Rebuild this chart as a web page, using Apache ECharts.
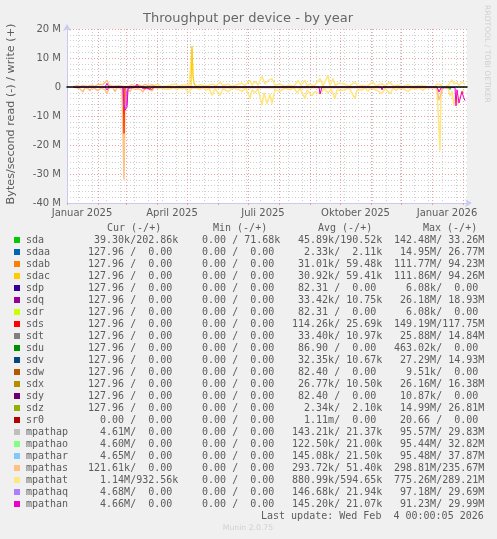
<!DOCTYPE html>
<html lang="en">
<head>
<meta charset="UTF-8">
<script src="https://cdnjs.cloudflare.com/ajax/libs/echarts/6.0.0/echarts.min.js"></script>
<title>Throughput per device - by year</title>
<style>
  html, body { margin: 0; padding: 0; background: #f0f0f0; }
  #chart { width: 497px; height: 539px; }
</style>
</head>
<body>
<div id="chart"></div>
<script type="text/javascript">
// x values are days since 2025-01-01, y values are in M bytes/second
var monthStarts = [0, 31, 59, 90, 120, 151, 181, 212, 243, 273, 304, 334, 365, 396];
var fortnights = [11, 25, 39, 53, 67, 81, 95, 109, 123, 137, 151, 165, 179, 193, 207, 221, 235, 249, 263, 277, 291, 305, 319, 333, 347, 361, 375, 389];
var labelDays = [15, 105, 196, 288.5, 380];
var labelNames = ['Januar 2025', 'April 2025', 'Juli 2025', 'Oktober 2025', 'Januar 2026'];

var mpathatRead = [[88,0],[91,-0.5],[94,-0.2],[97,-0.7],[100,-0.8],[102,-0.2],[104,-0.6],[107,-0.2],[110,-1],[112,-0.3],[115,-0.6],[118,-0.3],[121,-2],[124,-0.6],[126,-0.9],[128,-0.3],[130,-0.7],[133,-0.8],[136,-0.2],[139,-1.2],[142,-0.4],[145,-2.9],[148,-0.6],[153,-2.9],[156,-0.5],[161,-1.7],[165,-0.3],[172,-1],[175,-1.5],[179,-0.4],[183,-4],[185,-1],[188,-2],[191,-0.6],[195,-6.3],[197,-2],[200,-5.7],[203,-2.5],[205,-5.7],[208,-1],[213,-1.5],[218,-0.4],[223,-1],[227,-0.3],[230,-2],[233,-0.5],[238,-4],[240,-1],[245,-3],[248,-1.5],[253,-2.4],[257,-0.6],[261,-2],[264,-0.8],[268,-4],[270,-1],[273,-1.2],[278,-1],[282,-0.3],[288,-4],[290,-1],[295,-1],[298,-0.3],[301,-1.5],[304,-0.3],[310,-1.2],[315,-2.3],[318,-0.4],[323,-2.3],[326,-0.4],[329,-1.2],[333,-0.2],[341,-1.5],[345,-0.4],[349,-0.8],[352,-0.1],[356,-1.2],[359,-0.1],[368,-0.2],[370,-1],[372,-0.8],[373,-22],[374,-1],[377,-0.1],[381,-0.4],[383,-3.2],[385,-1.5],[387,-6.5],[389,-2],[391,-6],[394,-2],[397,-1]];
var mpathatWrite = [[81,0.7],[85,0.3],[91,1],[94,0.3],[96,0.7],[99,0.3],[103,0.6],[105,0.2],[108,1],[112,0.3],[115,0.7],[118,0.8],[122,0.5],[125,13],[126,3.5],[127,1.2],[130,0.4],[133,0.8],[136,0.6],[140,0.4],[146,1],[149,0.3],[153,1.7],[156,0.5],[161,1],[165,0.3],[170,0.8],[175,1.3],[178,0.5],[183,2.3],[185,0.6],[188,2],[191,0.7],[195,3.7],[198,1],[201,2.2],[205,2.9],[208,0.6],[213,1],[218,0.2],[223,0.6],[227,0.2],[231,2.3],[234,0.6],[238,2.3],[240,0.5],[243,1],[247,0.3],[253,2.9],[256,0.4],[261,4],[263,0.5],[266,2.9],[268,0.6],[272,1.3],[278,1],[282,0.3],[288,1.7],[291,0.2],[295,0.5],[300,0.3],[306,1.7],[309,0.3],[315,1.2],[318,0.4],[323,1.7],[326,0.3],[331,0.7],[335,0.2],[341,0.8],[345,0.2],[350,0.4],[356,0.4],[362,0.1],[368,0.2],[370,1],[374,0.8],[376,0],[381,0.4],[385,2.5],[387,1],[390,1.5],[392,0.6],[395,1.7],[398,1]];
var mpathasRead = [[6,0],[10,-0.3],[13,-0.6],[16,-1.7],[18,-0.2],[21,-0.5],[23,-1.3],[25,-0.2],[28,-0.6],[31,-1.2],[34,-0.4],[38,-0.9],[40,-2.3],[42,-0.3],[46,-0.2],[48,-1.6],[50,-0.2],[55,-0.5],[57,-32],[58,-1.5],[60,-0.5],[63,-1.6],[65,-0.3],[68,-0.8],[71,-0.6],[74,-0.9],[76,-1.7],[78,-0.3],[82,-0.8],[85,-1.3],[87,-0.2],[92,-0.3],[370,-0.3],[372,-4.5],[374,-4],[376,-0.2]];
var mpathasWrite = [[6,0],[10,0.5],[13,0.2],[16,0.5],[20,0.2],[25,0.6],[28,0.2],[31,0.9],[33,0.3],[36,0.9],[40,2.3],[42,0.6],[46,0.3],[52,0.4],[57,0.2],[62,0.3],[65,0.8],[68,0.3],[72,0.7],[75,0.2],[78,0.9],[82,0.3],[85,0.8],[88,0.2],[92,0.3]];
var sdacWrite = [[124,0],[125,14],[126,4],[127,1.5],[128,0.5],[130,0]];
var mpathaqRead = [[56,0],[57,-6],[58,-7.5],[59,-7],[60,-6],[61,0]];
var sdsRead = [[56,0],[57,-16],[58,0],[62,0],[63,-0.5],[64,0],[71,0],[72,-0.5],[73,0],[77,0],[78,-0.8],[79,0],[81,0],[82,-0.6],[83,0],[84,0],[85,-0.8],[87,0]];
var mpathanRead = [[6,0],[8,-0.5],[10,-0.2],[12,-0.5],[14,0],[22,0],[23,-0.4],[24,0],[38,0],[40,-1],[42,0],[47,0],[48,-0.6],[49,0],[56,0],[57,-6],[58,-8],[59,-8],[60,-7],[61,-0.5],[62,0],[69,0],[70,-0.5],[71,0],[75,0],[76,-0.7],[77,0],[79,0],[80,-0.5],[81,0],[82,0],[83,-0.7],[85,0],[152,0],[154,-0.4],[156,0],[218,0],[219,-0.4],[220,0],[237,0],[238,-0.4],[239,0],[252,0],[253,-2.4],[254,-2],[255,0],[294,0],[295,-0.5],[296,0],[314,0],[315,-1],[316,0],[370,0],[372,-1.7],[374,-0.3],[388,-0.2],[389,-6.5],[390,-1],[392,-5.5],[393,-5],[395,-1.5],[396,-3],[398,-4.7]];
var mpathanWrite = [[38,0],[40,1.2],[42,0],[68,0],[70,1],[72,0]];
var sdaRead = [[381,0],[383,-0.9],[384,0]];

var deviceNames = ['sda', 'sdaa', 'sdab', 'sdac', 'sdp', 'sdq', 'sdr', 'sds', 'sdt', 'sdu', 'sdv', 'sdw', 'sdx', 'sdy', 'sdz', 'sr0', 'mpathap', 'mpathao', 'mpathar', 'mpathas', 'mpathat', 'mpathaq', 'mpathan'];
var deviceColors = ['#00CC00', '#0066B3', '#FF8000', '#FFCC00', '#330099', '#990099', '#CCFF00', '#FF0000', '#808080', '#008F00', '#00487D', '#B35A00', '#B38F00', '#6B006B', '#8FB300', '#B30000', '#BEBEBE', '#80FF80', '#80C9FF', '#FFC080', '#FFE680', '#AA80FF', '#EE00CC'];
var curValues = [' 39.30k/202.86k', '127.96 /  0.00', '127.96 /  0.00', '127.96 /  0.00', '127.96 /  0.00', '127.96 /  0.00', '127.96 /  0.00', '127.96 /  0.00', '127.96 /  0.00', '127.96 /  0.00', '127.96 /  0.00', '127.96 /  0.00', '127.96 /  0.00', '127.96 /  0.00', '127.96 /  0.00', '  0.00 /  0.00', '  4.61M/  0.00', '  4.60M/  0.00', '  4.65M/  0.00', '121.61k/  0.00', '  1.14M/932.56k', '  4.68M/  0.00', '  4.66M/  0.00'];
var minValues = ['  0.00 / 71.68k', '  0.00 /  0.00', '  0.00 /  0.00', '  0.00 /  0.00', '  0.00 /  0.00', '  0.00 /  0.00', '  0.00 /  0.00', '  0.00 /  0.00', '  0.00 /  0.00', '  0.00 /  0.00', '  0.00 /  0.00', '  0.00 /  0.00', '  0.00 /  0.00', '  0.00 /  0.00', '  0.00 /  0.00', '  0.00 /  0.00', '  0.00 /  0.00', '  0.00 /  0.00', '  0.00 /  0.00', '  0.00 /  0.00', '  0.00 /  0.00', '  0.00 /  0.00', '  0.00 /  0.00'];
var avgValues = [' 45.89k/190.52k', '  2.33k/  2.11k', ' 31.01k/ 59.48k', ' 30.92k/ 59.41k', ' 82.31 /  0.00', ' 33.42k/ 10.75k', ' 82.31 /  0.00', '114.26k/ 25.69k', ' 33.40k/ 10.97k', ' 86.90 /  0.00', ' 32.35k/ 10.67k', ' 82.40 /  0.00', ' 26.77k/ 10.50k', ' 82.40 /  0.00', '  2.34k/  2.10k', '  1.11m/  0.00', '143.21k/ 21.37k', '122.50k/ 21.00k', '145.08k/ 21.50k', '293.72k/ 51.40k', '880.99k/594.65k', '146.68k/ 21.94k', '145.20k/ 21.07k'];
var maxValues = ['142.48M/ 33.26M', ' 14.95M/ 26.77M', '111.77M/ 94.23M', '111.86M/ 94.26M', '  6.08k/  0.00', ' 26.18M/ 18.93M', '  6.08k/  0.00', '149.19M/117.75M', ' 25.88M/ 14.84M', '463.02k/  0.00', ' 27.29M/ 14.93M', '  9.51k/  0.00', ' 26.16M/ 16.38M', ' 10.87k/  0.00', ' 14.99M/ 26.81M', ' 20.66 /  0.00', ' 95.57M/ 29.83M', ' 95.44M/ 32.82M', ' 95.48M/ 37.87M', '298.81M/235.67M', '775.26M/289.21M', ' 97.18M/ 29.69M', ' 91.23M/ 29.99M'];

var mono = '"DejaVu Sans Mono"';
var sans = '"DejaVu Sans"';
var textColor = '#5c5c5c';
var axisColor = '#c9c9f2';

function line(name, color, data, width) {
    return {
        name: name, type: 'line', data: data, showSymbol: false, silent: true,
        xAxisIndex: 0, yAxisIndex: 0,
        lineStyle: { color: color, width: width || 1 }
    };
}

function monoText(x, y, text) {
    return { type: 'text', x: x, y: y, style: { text: text, font: '10px ' + mono, fill: textColor, verticalAlign: 'middle' } };
}

// legend table below the plot
var graphics = [
    monoText(107, 228, 'Cur (-/+)'),
    monoText(213, 228, 'Min (-/+)'),
    monoText(318, 228, 'Avg (-/+)'),
    monoText(423, 228, 'Max (-/+)')
];
deviceNames.forEach(function (name, i) {
    var y = 240 + i * 12;
    graphics.push({ type: 'rect', shape: { x: 14, y: y - 3, width: 6, height: 6 }, style: { fill: deviceColors[i] } });
    graphics.push(monoText(26, y, name));
    graphics.push(monoText(88, y, curValues[i]));
    graphics.push(monoText(190, y, minValues[i]));
    graphics.push(monoText(292, y, avgValues[i]));
    graphics.push(monoText(394, y, maxValues[i]));
});
graphics.push(monoText(261, 516, 'Last update: Wed Feb  4 00:00:05 2026'));
graphics.push({ type: 'text', x: 248, y: 528, style: { text: 'Munin 2.0.75', font: '7.7px ' + sans, fill: '#d0d0d0', align: 'center', verticalAlign: 'middle' } });
graphics.push({ type: 'text', x: 248, y: 19, style: { text: 'Throughput per device - by year', font: '13px ' + sans, fill: '#666666', align: 'center', verticalAlign: 'middle' } });
graphics.push({ type: 'text', x: 11, y: 114, rotation: Math.PI / 2, style: { text: 'Bytes/second read (-) / write (+)', font: '11.2px ' + sans, fill: textColor, align: 'center', verticalAlign: 'middle' } });
graphics.push({ type: 'text', x: 487, y: 54, rotation: -Math.PI / 2, style: { text: 'RRDTOOL / TOBI OETIKER', font: '7.6px ' + sans, fill: '#d0d0d0', align: 'center', verticalAlign: 'middle' } });

var chart = echarts.init(document.getElementById('chart'), null, { renderer: 'canvas' });
var spikeFill = line('mpathaq read', '#AA80FF', mpathaqRead);
spikeFill.areaStyle = { color: '#dd30d8', opacity: 0.75 };

chart.setOption({
    animation: false,
    backgroundColor: '#f0f0f0',
    grid: { left: 67, top: 29, width: 400, height: 174, backgroundColor: '#ffffff', show: true, borderWidth: 0 },
    xAxis: [
        {
            // month grid and the labels
            type: 'value', min: 0, max: 400, position: 'bottom',
            axisLine: { onZero: false, lineStyle: { color: axisColor }, symbol: ['none', 'arrow'], symbolSize: [6, 7], symbolOffset: [0, 5] },
            axisTick: { customValues: monthStarts, length: 2, lineStyle: { color: '#e5a0a0' } },
            axisLabel: {
                customValues: labelDays, color: textColor, fontFamily: sans, fontSize: 10, margin: 5,
                formatter: function (v) { return labelNames[labelDays.indexOf(v)]; }
            },
            splitLine: { show: true, lineStyle: { color: '#e8a0a0', width: 1, type: [1, 2] } }
        },
        {
            // two-week grid
            type: 'value', min: 0, max: 400, position: 'bottom',
            axisLine: { show: false, onZero: false },
            axisTick: { customValues: fortnights, show: false },
            axisLabel: { show: false },
            splitLine: { show: true, lineStyle: { color: '#cfcfcf', width: 1, type: [1, 2] } }
        },
        {
            // black rule at zero, above the lines
            type: 'value', min: 0, max: 400, z: 6,
            axisLine: { onZero: true, lineStyle: { color: '#000000', width: 1.5 } },
            axisTick: { show: false }, axisLabel: { show: false }, splitLine: { show: false }
        }
    ],
    yAxis: {
        type: 'value', min: -40, max: 20, interval: 10,
        axisLine: { show: true, lineStyle: { color: axisColor }, symbol: ['none', 'arrow'], symbolSize: [6, 7], symbolOffset: [0, 5] },
        axisTick: { show: false },
        axisLabel: {
            color: textColor, fontFamily: sans, fontSize: 10, margin: 6,
            formatter: function (v) { return v === 0 ? '0' : v + ' M'; }
        },
        splitLine: { show: true, lineStyle: { color: '#e8a0a0', width: 1, type: [1, 2] } },
        minorTick: { show: false, splitNumber: 5 },
        minorSplitLine: { show: true, lineStyle: { color: '#cfcfcf', width: 1, type: [1, 2] } }
    },
    series: [
        line('mpathat read', '#FFE680', mpathatRead, 1.5),
        line('mpathat write', '#FFE680', mpathatWrite, 1.5),
        line('mpathas read', '#FFC080', mpathasRead, 1.5),
        line('mpathas write', '#FFC080', mpathasWrite, 1.5),
        line('sdac write', '#FFCC00', sdacWrite),
        line('sds read', '#FF3000', sdsRead),
        spikeFill,
        line('mpathan read', '#EE00CC', mpathanRead),
        line('mpathan write', '#EE00CC', mpathanWrite),
        line('sda read', '#00CC00', sdaRead)
    ],
    graphic: graphics
});
</script>
</body>
</html>
